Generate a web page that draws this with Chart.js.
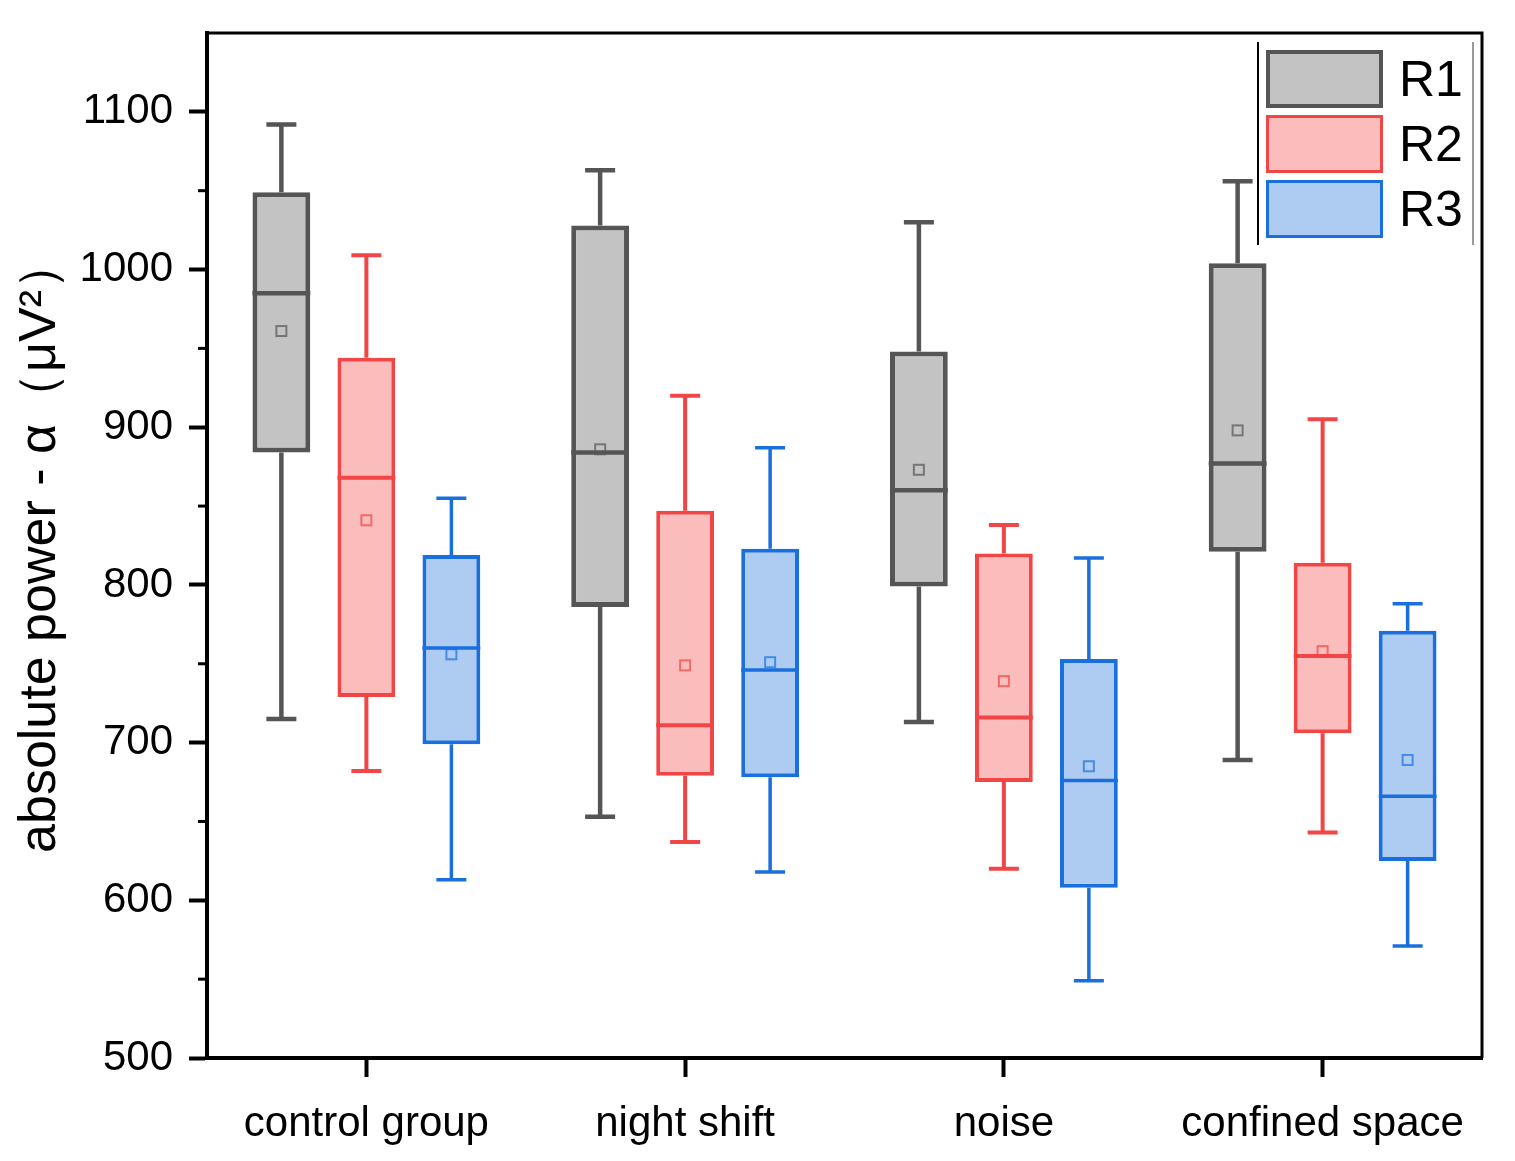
<!DOCTYPE html>
<html>
<head>
<meta charset="utf-8">
<script src="https://cdn.jsdelivr.net/npm/chart.js@4.4.1/dist/chart.umd.min.js"></script>
<style>
  html, body { margin: 0; padding: 0; background: #fff; }
  canvas { display: block; }
</style>
</head>
<body>
<canvas id="boxChart" width="1515" height="1161"></canvas>
<script>
// categories and tick range
const categories = ['control group', 'night shift', 'noise', 'confined space'];
const seriesNames = ['R1', 'R2', 'R3'];
const yMin = 500;
const yMax = 1150;
const yStep = 50;

// R1 box statistics per category
const r1Low = [715, 653, 713, 689];
const r1Q1 = [884, 786, 799, 821];
const r1Median = [985, 884, 860, 877];
const r1Q3 = [1049, 1028, 948, 1004];
const r1High = [1092, 1063, 1030, 1056];
const r1Mean = [961, 886, 873, 898];

// R2 box statistics per category
const r2Low = [682, 637, 620, 643];
const r2Q1 = [729, 679, 675, 706];
const r2Median = [868, 711, 716, 755];
const r2Q3 = [944, 847, 820, 814];
const r2High = [1009, 920, 838, 905];
const r2Mean = [841, 749, 739, 758];

// R3 box statistics per category
const r3Low = [613, 618, 549, 571];
const r3Q1 = [699, 678, 608, 625];
const r3Median = [760, 746, 676, 666];
const r3Q3 = [819, 823, 753, 771];
const r3High = [855, 887, 817, 788];
const r3Mean = [756, 751, 685, 689];

const boxStats = [
    { low: r1Low, median: r1Median, high: r1High, mean: r1Mean },
    { low: r2Low, median: r2Median, high: r2High, mean: r2Mean },
    { low: r3Low, median: r3Median, high: r3High, mean: r3Mean }
];

const edgeColors = ['#555555', '#f24545', '#1a6fdf'];
const fillColors = ['#c3c3c3', '#fbbcbc', '#aecbf2'];
const edgeWidths = [5, 4, 4];
const whiskerWidths = [4.5, 4, 3.5];

function floating(q1, q3) {
    return q1.map((v, i) => [v, q3[i]]);
}

// whiskers, caps, medians and means on top of the floating bars
const boxExtras = {
    id: 'boxExtras',
    afterDatasetsDraw(chart) {
        const ctx = chart.ctx;
        const y = chart.scales.y;
        chart.data.datasets.forEach((ds, di) => {
            const meta = chart.getDatasetMeta(di);
            const st = boxStats[di];
            ctx.save();
            ctx.strokeStyle = edgeColors[di];
            ctx.lineWidth = whiskerWidths[di];
            meta.data.forEach((bar, i) => {
                const x = bar.x;
                const half = bar.width / 2;
                const capHalf = 15;
                const yTop = Math.min(bar.y, bar.base);
                const yBottom = Math.max(bar.y, bar.base);
                const yHigh = y.getPixelForValue(st.high[i]);
                const yLow = y.getPixelForValue(st.low[i]);

                ctx.beginPath();
                ctx.moveTo(x, yTop);
                ctx.lineTo(x, yHigh);
                ctx.moveTo(x - capHalf, yHigh);
                ctx.lineTo(x + capHalf, yHigh);
                ctx.moveTo(x, yBottom);
                ctx.lineTo(x, yLow);
                ctx.moveTo(x - capHalf, yLow);
                ctx.lineTo(x + capHalf, yLow);
                ctx.stroke();

                // median
                const yMed = y.getPixelForValue(st.median[i]);
                ctx.beginPath();
                ctx.moveTo(x - half, yMed);
                ctx.lineTo(x + half, yMed);
                ctx.stroke();

                // mean marker
                const yMean = y.getPixelForValue(st.mean[i]);
                ctx.save();
                ctx.lineWidth = 2;
                ctx.globalAlpha = 0.7;
                ctx.strokeRect(x - 5, yMean - 5, 10, 10);
                ctx.restore();
            });
            ctx.restore();
        });
    },
    afterDraw(chart) {
        const ctx = chart.ctx;
        const area = chart.chartArea;
        const y = chart.scales.y;
        ctx.save();

        // minor ticks on the y axis
        ctx.strokeStyle = '#000';
        ctx.lineWidth = 3;
        y.ticks.forEach(t => {
            if (t.value % 100 !== 0 && t.value < yMax) {
                const py = y.getPixelForValue(t.value);
                ctx.beginPath();
                ctx.moveTo(area.left - 9, py);
                ctx.lineTo(area.left, py);
                ctx.stroke();
            }
        });

        // top and right frame
        ctx.lineWidth = 3;
        ctx.beginPath();
        ctx.moveTo(area.left, area.top);
        ctx.lineTo(area.right, area.top);
        ctx.lineTo(area.right, area.bottom);
        ctx.stroke();

        // legend in the upper right corner
        const lx = 1266, ly = 50, sw = 117, sh = 58, gap = 7;
        ctx.lineWidth = 2;
        ctx.strokeStyle = '#000';
        ctx.beginPath();
        ctx.moveTo(1258, 42);
        ctx.lineTo(1258, 245);
        ctx.stroke();
        ctx.strokeStyle = '#9a9a9a';
        ctx.beginPath();
        ctx.moveTo(1473, 42);
        ctx.lineTo(1473, 245);
        ctx.stroke();

        ctx.font = '50px "Liberation Sans", Arial, sans-serif';
        ctx.textBaseline = 'middle';
        ctx.textAlign = 'left';
        seriesNames.forEach((name, i) => {
            const top = ly + i * (sh + gap);
            ctx.fillStyle = fillColors[i];
            ctx.fillRect(lx, top, sw, sh);
            ctx.strokeStyle = edgeColors[i];
            ctx.lineWidth = edgeWidths[i] - 1;
            const bw = ctx.lineWidth;
            ctx.strokeRect(lx + bw / 2, top + bw / 2, sw - bw, sh - bw);
            ctx.fillStyle = '#000';
            ctx.fillText(name, 1399, top + sh / 2 + 3);
        });
        ctx.restore();
    }
};

const datasets = [
    floating(r1Q1, r1Q3),
    floating(r2Q1, r2Q3),
    floating(r3Q1, r3Q3)
].map((data, i) => ({
    label: seriesNames[i],
    data: data,
    backgroundColor: fillColors[i],
    borderColor: edgeColors[i],
    borderWidth: edgeWidths[i],
    borderSkipped: false,
    categoryPercentage: 0.8,
    barPercentage: 0.68
}));

const font = { family: '"Liberation Sans", Arial, sans-serif', size: 42 };

new Chart(document.getElementById('boxChart').getContext('2d'), {
    type: 'bar',
    data: { labels: categories, datasets: datasets },
    plugins: [boxExtras],
    options: {
        responsive: false,
        animation: false,
        devicePixelRatio: 1,
        layout: { padding: { top: 33, right: 33, bottom: 0, left: 0 } },
        plugins: {
            legend: { display: false },
            tooltip: { enabled: false }
        },
        scales: {
            x: {
                grid: {
                    display: true,
                    offset: false,
                    drawOnChartArea: false,
                    tickLength: 19,
                    tickWidth: 4,
                    tickColor: '#000'
                },
                border: { display: true, color: '#000', width: 4 },
                ticks: { color: '#000', font: font, padding: 22, maxRotation: 0 },
                afterFit: scale => {
                    scale.height = 103;
                    scale.paddingLeft = 0;
                    scale.paddingRight = 0;
                }
            },
            y: {
                min: yMin,
                max: yMax,
                grid: {
                    display: true,
                    drawOnChartArea: false,
                    tickLength: 18,
                    tickWidth: 4,
                    tickColor: ctx => (ctx.tick && ctx.tick.value % 100 === 0 && ctx.tick.value < yMax) ? '#000' : 'rgba(0,0,0,0)'
                },
                border: { display: true, color: '#000', width: 4 },
                ticks: {
                    stepSize: yStep,
                    color: '#000',
                    font: font,
                    padding: 16,
                    callback: v => (v % 100 === 0 && v < yMax) ? String(v) : ''
                },
                title: {
                    display: true,
                    text: 'absolute power - α（μV²）',
                    color: '#000',
                    font: { family: '"Liberation Sans", Arial, sans-serif', size: 52 },
                    padding: { top: 9, bottom: 0 }
                },
                afterFit: scale => {
                    scale.width = 207;
                    scale.paddingTop = 0;
                    scale.paddingBottom = 0;
                }
            }
        }
    }
});
</script>
</body>
</html>
